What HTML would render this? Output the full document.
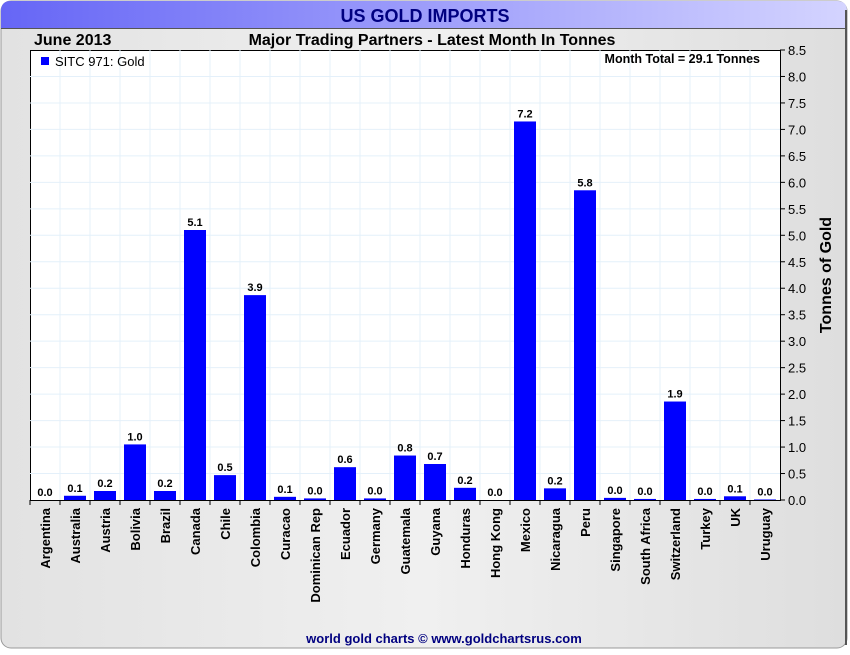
<!DOCTYPE html>
<html><head><meta charset="utf-8"><style>
body{margin:0;width:850px;height:650px;overflow:hidden;background:#fff;font-family:"Liberation Sans",sans-serif}
</style></head><body>
<svg width="850" height="650" xmlns="http://www.w3.org/2000/svg">
<defs>
<linearGradient id="tb" x1="0" x2="1"><stop offset="0" stop-color="#6666f6"/><stop offset="1" stop-color="#d4d4ff"/></linearGradient>
<linearGradient id="bg" x1="0" x2="1"><stop offset="0" stop-color="#e2e2e2"/><stop offset="0.5" stop-color="#f0f0f0"/><stop offset="1" stop-color="#dedede"/></linearGradient>
</defs>
<rect x="1" y="1" width="846" height="647" rx="10" fill="url(#bg)" stroke="#999"/>
<path d="M1 28 V11 Q1 1 11 1 H837 Q847 1 847 11 V28 Z" fill="url(#tb)"/>
<line x1="1" y1="28.5" x2="847" y2="28.5" stroke="#555"/>
<line x1="846" y1="10" x2="846" y2="645" stroke="#555" stroke-width="2"/>
<text x="425" y="22" text-anchor="middle" font-size="18" font-weight="bold" fill="#000080">US GOLD IMPORTS</text>
<text x="34" y="45" font-size="16" font-weight="bold">June 2013</text>
<text x="432" y="45" text-anchor="middle" font-size="16" font-weight="bold">Major Trading Partners - Latest Month In Tonnes</text>
<rect x="30.5" y="50.5" width="750" height="450" fill="#fff" stroke="#000"/>
<g id="grid"></g>
<g id="bars"></g>
<g id="axes"></g>
<rect x="41" y="57" width="8" height="8" fill="#0000ff"/>
<text x="55" y="66" font-size="13">SITC 971: Gold</text>
<text x="760" y="63" text-anchor="end" font-size="12.5" font-weight="bold">Month Total = 29.1 Tonnes</text>
<text transform="translate(831,275) rotate(-90)" text-anchor="middle" font-size="16" font-weight="bold">Tonnes of Gold</text>
<text x="444" y="643" text-anchor="middle" font-size="13" font-weight="bold" fill="#000080">world gold charts © www.goldchartsrus.com</text>
</svg>
<script>
const categories=["Argentina","Australia","Austria","Bolivia","Brazil","Canada","Chile","Colombia","Curacao","Dominican Rep","Ecuador","Germany","Guatemala","Guyana","Honduras","Hong Kong","Mexico","Nicaragua","Peru","Singapore","South Africa","Switzerland","Turkey","UK","Uruguay"];
const values=[0.0,0.08,0.17,1.05,0.17,5.1,0.47,3.87,0.06,0.03,0.62,0.03,0.84,0.68,0.23,0.0,7.15,0.22,5.85,0.04,0.02,1.86,0.02,0.07,0.01];
const valueLabels=["0.0","0.1","0.2","1.0","0.2","5.1","0.5","3.9","0.1","0.0","0.6","0.0","0.8","0.7","0.2","0.0","7.2","0.2","5.8","0.0","0.0","1.9","0.0","0.1","0.0"];
const yTicks=[0,0.5,1,1.5,2,2.5,3,3.5,4,4.5,5,5.5,6,6.5,7,7.5,8,8.5];
const NS="http://www.w3.org/2000/svg";
const L=30,R=780,T=50,B=500,yMax=8.5;
const bw=(R-L)/categories.length;
const x=i=>L+bw*i;
const y=v=>B-(v/yMax)*(B-T);
function mk(tag,attrs,parent){const e=document.createElementNS(NS,tag);for(const k in attrs)e.setAttribute(k,attrs[k]);parent.appendChild(e);return e;}
const grid=document.getElementById('grid'),bars=document.getElementById('bars'),axes=document.getElementById('axes');
yTicks.forEach(t=>{
  if(t>0&&t<yMax){const g=mk('line',{x1:L,x2:R,y1:y(t),y2:y(t),stroke:'#e4f0fa'},grid);
  
  }
  const tk=mk('line',{x1:R,x2:R+5,y1:y(t),y2:y(t),stroke:'#000'},axes);
  
  
  const lb=mk('text',{x:R+8,y:y(t)+5,'font-size':13},axes);
  lb.textContent=t.toFixed(1);
  
  
});
categories.forEach((c,i)=>{
  if(i>0){const g=mk('line',{x1:x(i),x2:x(i),y1:T,y2:B,stroke:'#e4f0fa'},grid);
  
  }
  const cx=x(i)+bw/2;
  const h=Math.max(B-y(values[i]),0);
  const r=mk('rect',{x:cx-11,y:B-h,width:22,height:h,fill:'#0000ff'},bars);
  
  
  const vl=mk('text',{x:cx,y:B-h-4,'text-anchor':'middle','font-size':11,'font-weight':'bold'},bars);
  vl.textContent=valueLabels[i];
  
  
  const tk=mk('line',{x1:x(i),x2:x(i),y1:B,y2:B+5,stroke:'#000'},axes);
  
  
  const lb=mk('text',{transform:`translate(${cx+5},${B+8}) rotate(-90)`,'text-anchor':'end','font-size':13,'font-weight':'bold'},axes);
  lb.textContent=c;
  
  
});
</script>
</body></html>
